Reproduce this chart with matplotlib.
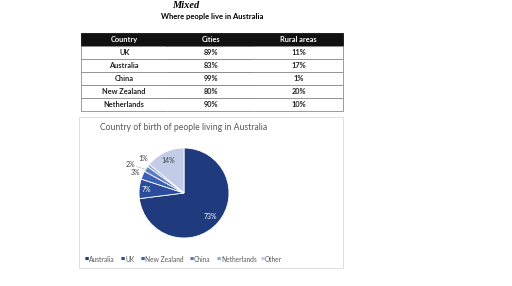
import numpy as np
import matplotlib.pyplot as plt
from matplotlib.patches import Rectangle

plt.rcParams['font.family'] = ['Lato', 'DejaVu Sans']

# table data
table_cols = ["Country", "Cities", "Rural areas"]
table_countries = ["UK", "Australia", "China", "New Zealand", "Netherlands"]
cities = ["89%", "83%", "99%", "80%", "90%"]
rural = ["11%", "17%", "1%", "20%", "10%"]

# pie data
pie_labels = ["Australia", "UK", "New Zealand", "China", "Netherlands", "Other"]
pie_values = [73, 7, 3, 2, 1, 14]
pie_colors = ["#1f3a7d", "#2b4c9c", "#3b5fb5", "#5a7bc6", "#93a8d8", "#c3cce6"]

W, H = 512, 286
fig = plt.figure(figsize=(W / 100, H / 100), dpi=100)

def fx(px):
    return px / W

def fy(py):
    return 1 - py / H

fig.text(fx(186), fy(5), "Mixed", ha="center", va="center", fontsize=7.5,
         family=["Liberation Serif", "DejaVu Serif"], fontweight="bold", style="italic")
fig.text(fx(212), fy(17), "Where people live in Australia", ha="center", va="center",
         fontsize=5.5, fontweight="bold")

# table
tax = fig.add_axes([fx(81), fy(111), fx(343) - fx(81), fy(33) - fy(111)])
tax.axis("off")
rows = [[c, a, b] for c, a, b in zip(table_countries, cities, rural)]
tbl = tax.table(cellText=rows, colLabels=table_cols, loc="center", cellLoc="center",
                bbox=[0, 0, 1, 1], colWidths=[0.33, 0.33, 0.34])
tbl.auto_set_font_size(False)
edges = {0: "BLT", 1: "BT", 2: "BRT"}
for (r, c), cell in tbl.get_celld().items():
    cell.set_edgecolor("#8c8c8c")
    cell.set_linewidth(0.6)
    cell.visible_edges = edges[c]
    cell.get_text().set_fontsize(5.3)
    cell.get_text().set_fontweight("bold")
    cell.get_text().set_color("#222222")
    if r == 0:
        cell.visible_edges = "closed"
        cell.set_facecolor("#111111")
        cell.get_text().set_color("white")
        cell.set_edgecolor("#111111")

# chart box
fig.patches.append(Rectangle((fx(79), fy(268)), fx(343) - fx(79), fy(117) - fy(268),
                             transform=fig.transFigure, fill=False,
                             edgecolor="#d9d9d9", linewidth=0.6))
fig.text(fx(184), fy(127), "Country of birth of people living in Australia",
         ha="center", va="center", fontsize=6.2, color="#595959")

pax = fig.add_axes([fx(139), fy(238), fx(229) - fx(139), fy(148) - fy(238)])
wedges, _ = pax.pie(pie_values, colors=pie_colors, startangle=90, counterclock=False,
                    wedgeprops=dict(edgecolor="white", linewidth=0.6))
pax.set_aspect("equal")
pax.set_xlim(-1, 1)
pax.set_ylim(-1, 1)

# label placement: radius (in pie radii) and colour per wedge
label_r = [0.78, 0.85, 1.16, 1.36, 1.18, 0.8]
label_ang = [None, None, 157, 152, 140, None]
label_col = ["white", "white", "#404040", "#404040", "#404040", "#404040"]
for w, v, r, a, col in zip(wedges, pie_values, label_r, label_ang, label_col):
    mid = (w.theta1 + w.theta2) / 2 if a is None else a
    ang = np.deg2rad(mid)
    x, y = r * np.cos(ang), r * np.sin(ang)
    pax.text(x, y, f"{v}%", ha="center", va="center", fontsize=5, color=col, clip_on=False)
    if v == 2:
        wm = np.deg2rad((w.theta1 + w.theta2) / 2)
        pax.plot([x + 0.14, 0.97 * np.cos(wm)], [y - 0.05, 0.97 * np.sin(wm)],
                 color="#bfbfbf", linewidth=0.5, clip_on=False)

# legend
lx = [85, 121, 141, 190, 217, 261]
for x, lab, col in zip(lx, pie_labels, pie_colors):
    fig.text(fx(x), fy(259), "\u25a0", ha="left", va="center", fontsize=3.2, color=col)
    fig.text(fx(x + 4), fy(259), lab, ha="left", va="center", fontsize=4.8, color="#595959")

fig.savefig("out.png", dpi=100)
